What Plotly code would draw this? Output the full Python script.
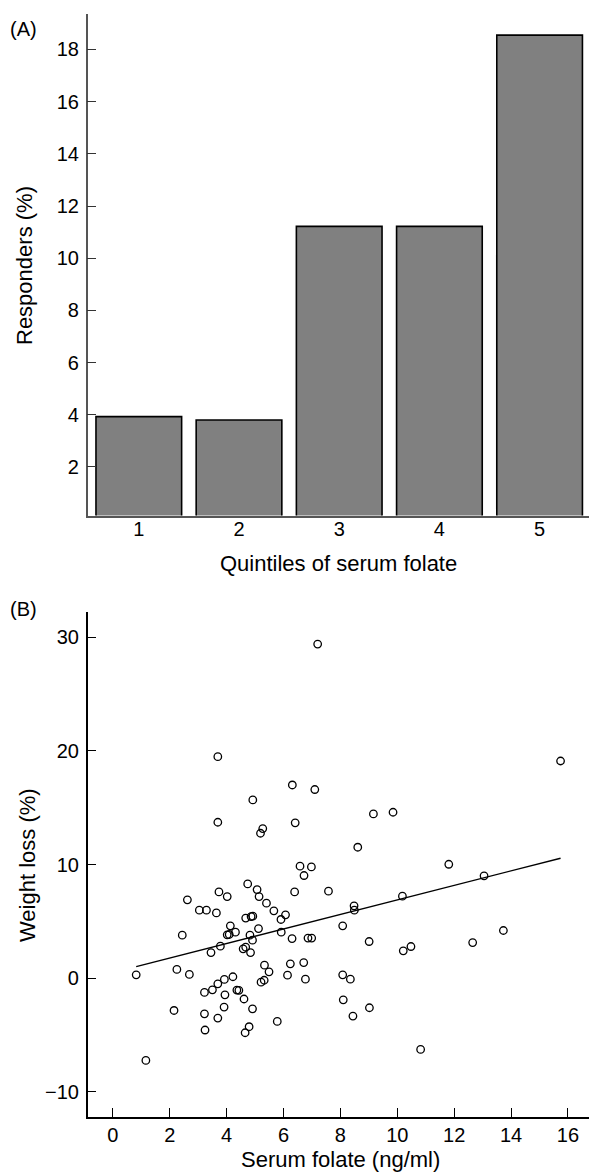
import numpy as np
import plotly.graph_objects as go

# ---- Panel A data ----
quintiles = [1, 2, 3, 4, 5]
responders_pct = [3.93, 3.80, 11.22, 11.22, 18.55]

# ---- Panel B data (serum folate ng/ml, weight loss %) ----
folate = [7.20, 3.69, 6.31, 7.10, 4.92, 3.69, 5.27, 5.19, 6.41, 6.58, 6.98, 6.72,
          4.74, 5.07, 3.73, 6.39, 7.58, 4.02, 5.14, 2.62, 5.40, 3.04, 3.29, 3.64,
          5.66, 6.07, 5.91, 4.67, 4.86, 4.92, 4.13, 5.12, 4.02, 4.09, 4.31, 2.44,
          4.82, 5.92, 6.30, 6.86, 6.99, 8.08, 4.91, 3.78, 4.67, 4.58, 3.45, 4.84,
          5.33, 5.49, 6.24, 6.71, 6.14, 6.77, 0.82, 2.25, 2.69, 4.22, 3.92, 3.69,
          3.50, 3.22, 3.94, 4.36, 4.43, 4.61, 5.21, 5.32, 4.91, 2.15, 3.91, 3.22,
          3.69, 5.78, 3.24, 4.79, 4.65, 1.16, 15.74, 9.16, 9.85, 8.61, 11.81, 13.05,
          8.48, 8.49, 10.18, 13.73, 9.01, 10.21, 10.48, 12.65, 8.08, 8.35, 8.10, 9.02,
          8.44, 10.82]
weight_loss = [29.4, 19.49, 17.0, 16.6, 15.68, 13.72, 13.16, 12.75, 13.67, 9.85, 9.79, 9.03,
               8.29, 7.79, 7.59, 7.59, 7.65, 7.18, 7.18, 6.89, 6.60, 5.98, 5.98, 5.74,
               5.92, 5.57, 5.16, 5.28, 5.42, 5.45, 4.60, 4.36, 3.81, 3.84, 4.04, 3.78,
               3.78, 4.04, 3.48, 3.52, 3.52, 4.60, 3.34, 2.81, 2.72, 2.58, 2.25, 2.25,
               1.14, 0.55, 1.26, 1.37, 0.26, -0.09, 0.29, 0.76, 0.32, 0.12, -0.12, -0.50,
               -1.03, -1.26, -1.47, -1.05, -1.08, -1.84, -0.36, -0.19, -2.70, -2.85, -2.55, -3.14,
               -3.52, -3.81, -4.57, -4.28, -4.81, -7.25, 19.11, 14.45, 14.6, 11.52, 10.02, 9.0,
               6.36, 5.98, 7.21, 4.19, 3.22, 2.40, 2.78, 3.13, 0.29, -0.09, -1.91, -2.61,
               -3.34, -6.28]

fit_slope = 0.64
fit_intercept = 0.48

x_ticks_b = [0, 2, 4, 6, 8, 10, 12, 14, 16]
y_ticks_b = [-10, 0, 10, 20, 30]
y_tick_text_b = ["\u221210", "0", "10", "20", "30"]
y_ticks_a = [2, 4, 6, 8, 10, 12, 14, 16, 18]

FONT = "Liberation Sans, Arial, sans-serif"
W, H = 589, 1174

fig = go.Figure()

fig.add_trace(go.Bar(
    x=quintiles, y=responders_pct, width=0.855,
    marker=dict(color="#808080", line=dict(color="black", width=1.6)),
    xaxis="x", yaxis="y", showlegend=False,
))

fig.add_trace(go.Scatter(
    x=folate, y=weight_loss, mode="markers",
    marker=dict(symbol="circle-open", size=7.5, color="black", line=dict(width=1.3)),
    xaxis="x2", yaxis="y2", showlegend=False,
))

fx = np.array([min(folate), max(folate)])
fig.add_trace(go.Scatter(
    x=fx, y=fit_intercept + fit_slope * fx, mode="lines",
    line=dict(color="black", width=1.4),
    xaxis="x2", yaxis="y2", showlegend=False,
))

x_dom = [87.7 / W, 1.0]
ya_dom = [1 - 515.5 / H, 1 - 14 / H]
yb_dom = [1 - 1116.7 / H, 1 - 612.3 / H]

tickfont = dict(family=FONT, size=20, color="black")
titlefont = dict(family=FONT, size=22, color="black")

fig.update_layout(
    width=W, height=H,
    margin=dict(l=0, r=0, t=0, b=0),
    paper_bgcolor="white", plot_bgcolor="white",
    font=dict(family=FONT, size=20, color="black"),
    xaxis=dict(domain=x_dom, anchor="y", range=[0.49, 5.493],
               tickvals=quintiles, ticks="", showline=True, linecolor="#555",
               linewidth=1.5, showgrid=False, zeroline=False, tickfont=tickfont,
               ticklabelstandoff=-5),
    yaxis=dict(domain=ya_dom, anchor="x", range=[0.14, 19.36],
               tickvals=y_ticks_a, ticks="inside", ticklen=9, tickwidth=1.2,
               tickcolor="#333", showline=True, linecolor="#555", linewidth=1.5,
               showgrid=False, zeroline=False, tickfont=tickfont,
               ticklabelstandoff=3),
    xaxis2=dict(domain=x_dom, anchor="y2", range=[-0.885, 16.74],
                tickvals=x_ticks_b, ticks="inside", ticklen=9, tickwidth=1.3,
                tickcolor="black", showline=True, linecolor="black", linewidth=1.5,
                showgrid=False, zeroline=False, tickfont=tickfont,
                ticklabelstandoff=0),
    yaxis2=dict(domain=yb_dom, anchor="x2", range=[-12.2, 32.2],
                tickvals=y_ticks_b, ticktext=y_tick_text_b,
                ticks="inside", ticklen=9, tickwidth=1.3, tickcolor="black",
                showline=True, linecolor="black", linewidth=1.5,
                showgrid=False, zeroline=False, tickfont=tickfont,
                ticklabelstandoff=3),
    annotations=[
        dict(text="(A)", x=8 / W, y=1 - 29 / H, xref="paper", yref="paper",
             xanchor="left", yanchor="middle", showarrow=False, font=tickfont),
        dict(text="(B)", x=8 / W, y=1 - 609 / H, xref="paper", yref="paper",
             xanchor="left", yanchor="middle", showarrow=False, font=tickfont),
        dict(text="Responders (%)", x=24 / W, y=1 - 266 / H, xref="paper", yref="paper",
             xanchor="center", yanchor="middle", textangle=-90, showarrow=False,
             font=titlefont),
        dict(text="Quintiles of serum folate", x=338 / W, y=1 - 564 / H,
             xref="paper", yref="paper", xanchor="center", yanchor="middle",
             showarrow=False, font=titlefont),
        dict(text="Weight loss (%)", x=27 / W, y=1 - 865 / H, xref="paper", yref="paper",
             xanchor="center", yanchor="middle", textangle=-90, showarrow=False,
             font=titlefont),
        dict(text="Serum folate (ng/ml)", x=340 / W, y=1 - 1159 / H,
             xref="paper", yref="paper", xanchor="center", yanchor="middle",
             showarrow=False, font=titlefont),
    ],
)

fig.write_html("out.html")
